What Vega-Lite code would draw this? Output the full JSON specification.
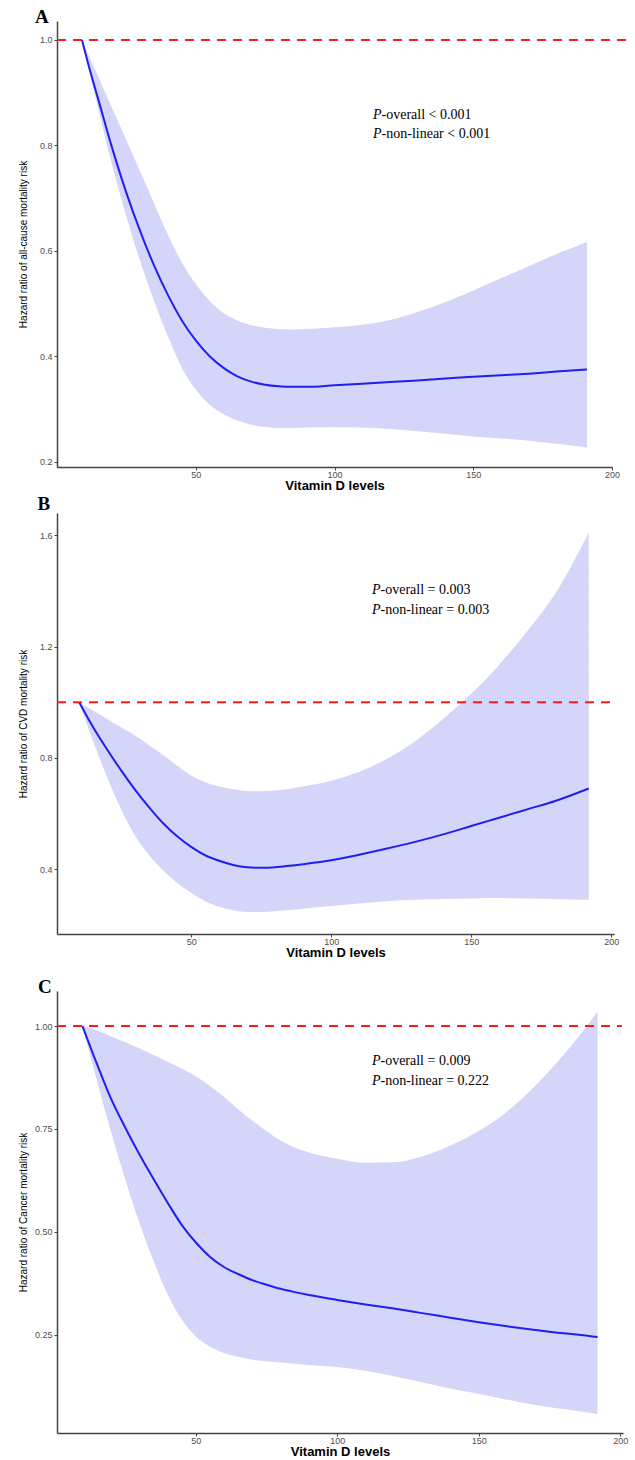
{
  "$schema": "https://vega.github.io/schema/vega-lite/v6.json",
  "padding": {"left": 18, "top": 8, "right": 0, "bottom": 0},
  "background": "white",
  "datasets": {
    "A": [
      {"x": 9, "y": 1.0, "lo": 1.0, "hi": 1.0},
      {"x": 12, "y": 0.94, "lo": 0.932, "hi": 0.964},
      {"x": 15, "y": 0.885, "lo": 0.866, "hi": 0.929},
      {"x": 20, "y": 0.793, "lo": 0.76, "hi": 0.869},
      {"x": 25, "y": 0.71, "lo": 0.665, "hi": 0.81},
      {"x": 30, "y": 0.637, "lo": 0.58, "hi": 0.75},
      {"x": 35, "y": 0.572, "lo": 0.505, "hi": 0.69},
      {"x": 40, "y": 0.516, "lo": 0.437, "hi": 0.63},
      {"x": 45, "y": 0.468, "lo": 0.378, "hi": 0.578},
      {"x": 50, "y": 0.43, "lo": 0.337, "hi": 0.537},
      {"x": 55, "y": 0.40, "lo": 0.308, "hi": 0.505},
      {"x": 60, "y": 0.378, "lo": 0.29, "hi": 0.482},
      {"x": 65, "y": 0.362, "lo": 0.278, "hi": 0.468},
      {"x": 70, "y": 0.352, "lo": 0.27, "hi": 0.459},
      {"x": 75, "y": 0.346, "lo": 0.266, "hi": 0.454},
      {"x": 80, "y": 0.343, "lo": 0.264, "hi": 0.452},
      {"x": 85, "y": 0.342, "lo": 0.264, "hi": 0.451},
      {"x": 90, "y": 0.342, "lo": 0.265, "hi": 0.452},
      {"x": 100, "y": 0.345, "lo": 0.266, "hi": 0.455},
      {"x": 110, "y": 0.348, "lo": 0.265, "hi": 0.46},
      {"x": 120, "y": 0.351, "lo": 0.262, "hi": 0.469},
      {"x": 130, "y": 0.354, "lo": 0.258, "hi": 0.484},
      {"x": 140, "y": 0.358, "lo": 0.253, "hi": 0.503},
      {"x": 150, "y": 0.361, "lo": 0.248, "hi": 0.525},
      {"x": 160, "y": 0.364, "lo": 0.244, "hi": 0.548},
      {"x": 170, "y": 0.367, "lo": 0.24, "hi": 0.571},
      {"x": 180, "y": 0.371, "lo": 0.234, "hi": 0.594},
      {"x": 191, "y": 0.375, "lo": 0.227, "hi": 0.617}
    ],
    "B": [
      {"x": 10, "y": 1.0, "lo": 1.0, "hi": 1.0},
      {"x": 15, "y": 0.91, "lo": 0.86, "hi": 0.97},
      {"x": 20, "y": 0.83, "lo": 0.73, "hi": 0.94},
      {"x": 25, "y": 0.755, "lo": 0.615, "hi": 0.91},
      {"x": 30, "y": 0.685, "lo": 0.52, "hi": 0.88},
      {"x": 35, "y": 0.622, "lo": 0.45, "hi": 0.845},
      {"x": 40, "y": 0.565, "lo": 0.395, "hi": 0.81},
      {"x": 45, "y": 0.518, "lo": 0.35, "hi": 0.772},
      {"x": 50, "y": 0.48, "lo": 0.315, "hi": 0.737},
      {"x": 55, "y": 0.45, "lo": 0.285, "hi": 0.712},
      {"x": 60, "y": 0.43, "lo": 0.265, "hi": 0.697},
      {"x": 65, "y": 0.415, "lo": 0.252, "hi": 0.687},
      {"x": 70, "y": 0.407, "lo": 0.246, "hi": 0.681},
      {"x": 75, "y": 0.405, "lo": 0.246, "hi": 0.68},
      {"x": 80, "y": 0.407, "lo": 0.249, "hi": 0.683},
      {"x": 85, "y": 0.412, "lo": 0.253, "hi": 0.688},
      {"x": 90, "y": 0.418, "lo": 0.258, "hi": 0.697},
      {"x": 100, "y": 0.432, "lo": 0.268, "hi": 0.718},
      {"x": 110, "y": 0.452, "lo": 0.277, "hi": 0.75},
      {"x": 120, "y": 0.474, "lo": 0.285, "hi": 0.797},
      {"x": 130, "y": 0.498, "lo": 0.29, "hi": 0.86},
      {"x": 140, "y": 0.525, "lo": 0.293, "hi": 0.94},
      {"x": 150, "y": 0.555, "lo": 0.295, "hi": 1.03},
      {"x": 160, "y": 0.585, "lo": 0.296, "hi": 1.135},
      {"x": 170, "y": 0.615, "lo": 0.295, "hi": 1.255},
      {"x": 180, "y": 0.645, "lo": 0.293, "hi": 1.39},
      {"x": 192, "y": 0.69, "lo": 0.29, "hi": 1.61}
    ],
    "C": [
      {"x": 10, "y": 1.0, "lo": 1.0, "hi": 1.0},
      {"x": 15, "y": 0.91, "lo": 0.87, "hi": 0.99},
      {"x": 20, "y": 0.825, "lo": 0.745, "hi": 0.975},
      {"x": 25, "y": 0.755, "lo": 0.63, "hi": 0.961},
      {"x": 30, "y": 0.69, "lo": 0.525, "hi": 0.946},
      {"x": 35, "y": 0.63, "lo": 0.432, "hi": 0.93},
      {"x": 40, "y": 0.572, "lo": 0.35, "hi": 0.913},
      {"x": 45, "y": 0.518, "lo": 0.288, "hi": 0.897},
      {"x": 50, "y": 0.475, "lo": 0.247, "hi": 0.878},
      {"x": 55, "y": 0.44, "lo": 0.222, "hi": 0.855},
      {"x": 60, "y": 0.415, "lo": 0.206, "hi": 0.828},
      {"x": 65, "y": 0.398, "lo": 0.197, "hi": 0.798},
      {"x": 70, "y": 0.383, "lo": 0.19, "hi": 0.77},
      {"x": 75, "y": 0.372, "lo": 0.186, "hi": 0.745},
      {"x": 80, "y": 0.362, "lo": 0.183, "hi": 0.722},
      {"x": 85, "y": 0.354, "lo": 0.18, "hi": 0.705},
      {"x": 90, "y": 0.347, "lo": 0.177, "hi": 0.693},
      {"x": 100, "y": 0.335, "lo": 0.172, "hi": 0.678},
      {"x": 110, "y": 0.324, "lo": 0.163, "hi": 0.668},
      {"x": 120, "y": 0.314, "lo": 0.15, "hi": 0.669},
      {"x": 130, "y": 0.303, "lo": 0.135, "hi": 0.683},
      {"x": 140, "y": 0.292, "lo": 0.12, "hi": 0.71},
      {"x": 150, "y": 0.281, "lo": 0.107, "hi": 0.745},
      {"x": 160, "y": 0.271, "lo": 0.093, "hi": 0.792},
      {"x": 170, "y": 0.262, "lo": 0.08, "hi": 0.855},
      {"x": 180, "y": 0.254, "lo": 0.07, "hi": 0.93},
      {"x": 186, "y": 0.25, "lo": 0.064, "hi": 0.98},
      {"x": 192, "y": 0.245, "lo": 0.058, "hi": 1.035}
    ],
    "tA": [
      {"x": 113.9, "y": 0.858, "t": "-overall < 0.001"},
      {"x": 113.9, "y": 0.822, "t": "-non-linear < 0.001"}
    ],
    "tB": [
      {"x": 114.6, "y": 1.404, "t": "-overall = 0.003"},
      {"x": 114.6, "y": 1.333, "t": "-non-linear = 0.003"}
    ],
    "tC": [
      {"x": 112.3, "y": 0.915, "t": "-overall = 0.009"},
      {"x": 112.3, "y": 0.866, "t": "-non-linear = 0.222"}
    ],
    "lA": [{"x": -7.9, "y": 1.032, "t": "A"}],
    "lB": [{"x": -4.9, "y": 1.691, "t": "B"}],
    "lC": [{"x": -5.7, "y": 1.08, "t": "C"}]
  },
  "vconcat": [
    {
      "spacing": 2,
      "vconcat": [
        {
          "width": 555,
          "height": 446,
          "layer": [
            {
              "data": {"name": "A"},
              "mark": {"type": "area", "color": "#d5d5fa", "opacity": 1, "interpolate": "monotone"},
              "encoding": {
                "x": {"field": "x", "type": "quantitative", "scale": {"domain": [0, 200], "nice": false, "zero": false}, "axis": {"values": [50, 100, 150, 200], "title": "Vitamin D levels"}},
                "y": {"field": "lo", "type": "quantitative", "scale": {"domain": [0.19, 1.036], "nice": false, "zero": false}, "axis": {"values": [0.2, 0.4, 0.6, 0.8, 1.0], "format": ".1f", "title": "Hazard ratio of all-cause mortality risk"}},
                "y2": {"field": "hi"}
              }
            },
            {
              "data": {"name": "A"},
              "mark": {"type": "line", "color": "#1f1fef", "strokeWidth": 2, "interpolate": "monotone"},
              "encoding": {"x": {"field": "x", "type": "quantitative"}, "y": {"field": "y", "type": "quantitative"}}
            },
            {
              "data": {"values": [{}]},
              "mark": {"type": "rule", "color": "#ff1a1a", "strokeWidth": 2, "strokeDash": [9, 7]},
              "encoding": {"x": {"datum": 0}, "x2": {"datum": 207.6}, "y": {"datum": 1}}
            },
            {
              "data": {"name": "tA"},
              "mark": {"type": "text", "font": "Liberation Serif", "fontSize": 14, "fontStyle": "italic", "align": "left", "baseline": "middle", "text": "P", "color": "black"},
              "encoding": {"x": {"field": "x", "type": "quantitative"}, "y": {"field": "y", "type": "quantitative"}}
            },
            {
              "data": {"name": "tA"},
              "mark": {"type": "text", "font": "Liberation Serif", "fontSize": 14, "align": "left", "baseline": "middle", "dx": 8.5, "color": "black"},
              "encoding": {"x": {"field": "x", "type": "quantitative"}, "y": {"field": "y", "type": "quantitative"}, "text": {"field": "t"}}
            },
            {
              "data": {"name": "lA"},
              "mark": {"type": "text", "font": "Liberation Serif", "fontSize": 19, "fontWeight": "bold", "align": "left", "baseline": "alphabetic", "color": "black"},
              "encoding": {"x": {"field": "x", "type": "quantitative"}, "y": {"field": "y", "type": "quantitative"}, "text": {"field": "t"}}
            }
          ]
        },
        {
          "width": 557,
          "height": 421,
          "layer": [
            {
              "data": {"name": "B"},
              "mark": {"type": "area", "color": "#d5d5fa", "opacity": 1, "interpolate": "monotone"},
              "encoding": {
                "x": {"field": "x", "type": "quantitative", "scale": {"domain": [2.1, 201], "nice": false, "zero": false}, "axis": {"values": [50, 100, 150, 200], "title": "Vitamin D levels"}},
                "y": {"field": "lo", "type": "quantitative", "scale": {"domain": [0.167, 1.68], "nice": false, "zero": false}, "axis": {"values": [0.4, 0.8, 1.2, 1.6], "format": ".1f", "title": "Hazard ratio of CVD mortality risk"}},
                "y2": {"field": "hi"}
              }
            },
            {
              "data": {"name": "B"},
              "mark": {"type": "line", "color": "#1f1fef", "strokeWidth": 2, "interpolate": "monotone"},
              "encoding": {"x": {"field": "x", "type": "quantitative"}, "y": {"field": "y", "type": "quantitative"}}
            },
            {
              "data": {"values": [{}]},
              "mark": {"type": "rule", "color": "#ff1a1a", "strokeWidth": 2, "strokeDash": [9, 7]},
              "encoding": {"x": {"datum": 2.1}, "x2": {"datum": 202.1}, "y": {"datum": 1}}
            },
            {
              "data": {"name": "tB"},
              "mark": {"type": "text", "font": "Liberation Serif", "fontSize": 14, "fontStyle": "italic", "align": "left", "baseline": "middle", "text": "P", "color": "black"},
              "encoding": {"x": {"field": "x", "type": "quantitative"}, "y": {"field": "y", "type": "quantitative"}}
            },
            {
              "data": {"name": "tB"},
              "mark": {"type": "text", "font": "Liberation Serif", "fontSize": 14, "align": "left", "baseline": "middle", "dx": 8.5, "color": "black"},
              "encoding": {"x": {"field": "x", "type": "quantitative"}, "y": {"field": "y", "type": "quantitative"}, "text": {"field": "t"}}
            },
            {
              "data": {"name": "lB"},
              "mark": {"type": "text", "font": "Liberation Serif", "fontSize": 19, "fontWeight": "bold", "align": "left", "baseline": "alphabetic", "color": "black"},
              "encoding": {"x": {"field": "x", "type": "quantitative"}, "y": {"field": "y", "type": "quantitative"}, "text": {"field": "t"}}
            }
          ]
        }
      ]
    },
    {
      "width": 566,
      "height": 442,
      "layer": [
        {
          "data": {"name": "C"},
          "mark": {"type": "area", "color": "#d5d5fa", "opacity": 1, "interpolate": "monotone"},
          "encoding": {
            "x": {"field": "x", "type": "quantitative", "scale": {"domain": [1, 201], "nice": false, "zero": false}, "axis": {"values": [50, 100, 150, 200], "title": "Vitamin D levels"}},
            "y": {"field": "lo", "type": "quantitative", "scale": {"domain": [0.012, 1.085], "nice": false, "zero": false}, "axis": {"values": [0.25, 0.5, 0.75, 1.0], "format": ".2f", "title": "Hazard ratio of Cancer mortality risk"}},
            "y2": {"field": "hi"}
          }
        },
        {
          "data": {"name": "C"},
          "mark": {"type": "line", "color": "#1f1fef", "strokeWidth": 2, "interpolate": "monotone"},
          "encoding": {"x": {"field": "x", "type": "quantitative"}, "y": {"field": "y", "type": "quantitative"}}
        },
        {
          "data": {"values": [{}]},
          "mark": {"type": "rule", "color": "#ff1a1a", "strokeWidth": 2, "strokeDash": [9, 7]},
          "encoding": {"x": {"datum": 1}, "x2": {"datum": 200.6}, "y": {"datum": 1}}
        },
        {
          "data": {"name": "tC"},
          "mark": {"type": "text", "font": "Liberation Serif", "fontSize": 14, "fontStyle": "italic", "align": "left", "baseline": "middle", "text": "P", "color": "black"},
          "encoding": {"x": {"field": "x", "type": "quantitative"}, "y": {"field": "y", "type": "quantitative"}}
        },
        {
          "data": {"name": "tC"},
          "mark": {"type": "text", "font": "Liberation Serif", "fontSize": 14, "align": "left", "baseline": "middle", "dx": 8.5, "color": "black"},
          "encoding": {"x": {"field": "x", "type": "quantitative"}, "y": {"field": "y", "type": "quantitative"}, "text": {"field": "t"}}
        },
        {
          "data": {"name": "lC"},
          "mark": {"type": "text", "font": "Liberation Serif", "fontSize": 19, "fontWeight": "bold", "align": "left", "baseline": "alphabetic", "color": "black"},
          "encoding": {"x": {"field": "x", "type": "quantitative"}, "y": {"field": "y", "type": "quantitative"}, "text": {"field": "t"}}
        }
      ]
    }
  ],
  "spacing": 19,
  "config": {
    "view": {"stroke": null},
    "axis": {
      "grid": false,
      "domainColor": "#444444",
      "domainWidth": 1.5,
      "tickColor": "#444444",
      "tickSize": 3,
      "labelColor": "#4d4d4d",
      "labelFont": "Liberation Sans",
      "labelFontSize": 9,
      "titleColor": "black"
    },
    "axisX": {
      "labelPadding": 0,
      "titlePadding": 0,
      "titleFont": "Liberation Sans",
      "titleFontSize": 13,
      "titleFontWeight": "bold",
      "labelFlush": false
    },
    "axisY": {
      "labelPadding": 2,
      "minExtent": 23,
      "maxExtent": 23,
      "titlePadding": 6,
      "titleFont": "Liberation Sans Narrow, Liberation Sans",
      "titleFontSize": 10,
      "titleFontWeight": "normal"
    }
  }
}
